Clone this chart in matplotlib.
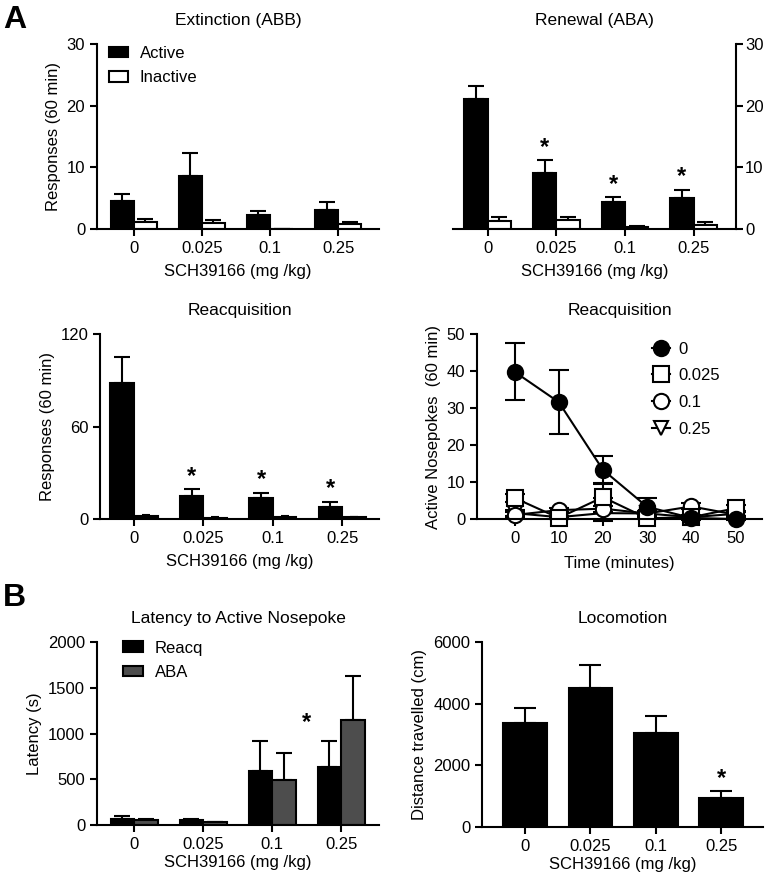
import numpy as np
import matplotlib.pyplot as plt
from matplotlib.patches import Patch
from matplotlib.lines import Line2D

plt.rcParams['font.family'] = ['Liberation Sans', 'DejaVu Sans']
plt.rcParams['font.size'] = 12
plt.rcParams['axes.linewidth'] = 1.5
plt.rcParams['xtick.major.width'] = 1.5
plt.rcParams['ytick.major.width'] = 1.5
plt.rcParams['xtick.major.size'] = 5
plt.rcParams['ytick.major.size'] = 5

doses = ['0', '0.025', '0.1', '0.25']

ext_active = [4.6, 8.6, 2.2, 3.1]
ext_active_err = [1.1, 3.7, 0.7, 1.2]
ext_inactive = [1.2, 0.9, 0.0, 0.8]
ext_inactive_err = [0.4, 0.6, 0.0, 0.4]

ren_active = [21.0, 9.1, 4.4, 5.0]
ren_active_err = [2.2, 2.1, 0.8, 1.4]
ren_inactive = [1.3, 1.4, 0.3, 0.6]
ren_inactive_err = [0.6, 0.5, 0.2, 0.5]

rea_active = [88.0, 15.0, 13.5, 8.0]
rea_active_err = [17.0, 4.5, 3.5, 3.2]
rea_inactive = [2.2, 0.8, 1.6, 1.2]
rea_inactive_err = [0.4, 0.2, 0.2, 0.2]

time_min = [0, 10, 20, 30, 40, 50]
tc_0 = [39.8, 31.6, 13.3, 3.3, 0.3, 0.0]
tc_0_err = [7.7, 8.6, 3.7, 2.3, 0.5, 0.3]
tc_025 = [5.7, 0.3, 5.9, 0.2, 0.5, 2.9]
tc_025_err = [1.0, 0.3, 3.9, 0.3, 0.5, 0.8]
tc_1 = [1.1, 2.4, 2.8, 1.5, 3.4, 1.2]
tc_1_err = [0.8, 0.6, 3.0, 0.8, 0.8, 0.6]
tc_25 = [1.6, 0.5, 1.6, 1.5, 0.5, 1.4]
tc_25_err = [0.8, 0.4, 2.0, 0.8, 0.4, 0.6]

lat_reacq = [62, 50, 593, 636]
lat_reacq_err = [35, 15, 320, 277]
lat_aba = [55, 29, 487, 1145]
lat_aba_err = [14, 8, 298, 480]

loco = [3384, 4508, 3038, 951]
loco_err = [486, 757, 551, 217]


def style(ax, right=False):
    ax.spines['top'].set_visible(False)
    if right:
        ax.spines['left'].set_visible(False)
        ax.yaxis.tick_right()
        ax.tick_params(axis='y', pad=1.5)
    else:
        ax.spines['right'].set_visible(False)
    ax.tick_params(labelsize=12)


def bars(ax, x, vals, errs, color, width, cap=6):
    ax.bar(x, vals, width, color=color, edgecolor='black', linewidth=1.5, zorder=2)
    ax.errorbar(x, vals, yerr=[np.zeros(len(vals)), errs], fmt='none',
                ecolor='black', elinewidth=1.5, capsize=cap, capthick=1.5, zorder=1)


def star(ax, x, y, off=1):
    ax.annotate('*', (x, y), xytext=(0, off), textcoords='offset points',
                ha='center', va='bottom', fontsize=17, fontweight='bold')


def patch(c):
    return Patch(facecolor=c, edgecolor='black', linewidth=1.5)


fig = plt.figure(figsize=(7.66, 8.76), dpi=100)
x = np.arange(4)
w = 0.34

# Extinction
ax1 = fig.add_axes([0.1266, 0.7386, 0.3682, 0.2112])
bars(ax1, x - w / 2, ext_active, ext_active_err, 'black', w)
bars(ax1, x + w / 2, ext_inactive, ext_inactive_err, 'white', w)
ax1.set_ylim(0, 30)
ax1.set_yticks([0, 10, 20, 30])
ax1.set_xlim(-0.54, 3.6)
ax1.set_xticks(x)
ax1.set_xticklabels(doses)
ax1.set_ylabel('Responses (60 min)')
ax1.set_xlabel('SCH39166 (mg /kg)', labelpad=6)
ax1.set_title('Extinction (ABB)', fontsize=12.5, pad=14)
ax1.legend([patch('black'), patch('white')], ['Active', 'Inactive'],
           loc='upper left', bbox_to_anchor=(-0.01, 1.07),
           frameon=False, fontsize=12, handlelength=1.15, handleheight=0.6,
           handletextpad=0.7, labelspacing=0.55)
style(ax1)

# Renewal
ax2 = fig.add_axes([0.592, 0.7386, 0.369, 0.2112])
bars(ax2, x - w / 2, ren_active, ren_active_err, 'black', w)
bars(ax2, x + w / 2, ren_inactive, ren_inactive_err, 'white', w)
ax2.set_ylim(0, 30)
ax2.set_yticks([0, 10, 20, 30])
ax2.set_xlim(-0.5, 3.62)
ax2.set_xticks(x)
ax2.set_xticklabels(doses)
ax2.set_xlabel('SCH39166 (mg /kg)', labelpad=6)
ax2.set_title('Renewal (ABA)', fontsize=12.5, pad=14)
for i in [1, 2, 3]:
    star(ax2, x[i] - w / 2, ren_active[i] + ren_active_err[i])
style(ax2, right=True)

# Reacquisition bars
ax3 = fig.add_axes([0.1305, 0.4075, 0.3643, 0.2112])
bars(ax3, x - w / 2, rea_active, rea_active_err, 'black', w)
bars(ax3, x + w / 2, rea_inactive, rea_inactive_err, 'black', w, cap=3)
ax3.set_ylim(0, 120)
ax3.set_yticks([0, 60, 120])
ax3.set_xlim(-0.49, 3.53)
ax3.set_xticks(x)
ax3.set_xticklabels(doses)
ax3.set_ylabel('Responses (60 min)')
ax3.set_xlabel('SCH39166 (mg /kg)', labelpad=6)
ax3.set_title('Reacquisition', fontsize=12.5, pad=14)
for i in [1, 2, 3]:
    star(ax3, x[i] - w / 2, rea_active[i] + rea_active_err[i])
style(ax3)

# Reacquisition time course
ax4 = fig.add_axes([0.6227, 0.4075, 0.3721, 0.2112])
series = [(tc_25, tc_25_err, 'v', 'white', '0.25'),
          (tc_1, tc_1_err, 'o', 'white', '0.1'),
          (tc_025, tc_025_err, 's', 'white', '0.025'),
          (tc_0, tc_0_err, 'o', 'black', '0')]
handles = {}
for vals, errs, m, fc, lab in series:
    ms = 11 if m != 'v' else 10
    ax4.errorbar(time_min, vals, yerr=errs, color='black', marker=m,
                 markersize=ms, markerfacecolor=fc,
                 markeredgecolor='black', markeredgewidth=1.5,
                 linewidth=1.5, elinewidth=1.5, capsize=7, capthick=1.5,
                 clip_on=False)
    handles[lab] = Line2D([], [], color='black', marker=m, markersize=ms,
                          markerfacecolor=fc, markeredgecolor='black',
                          markeredgewidth=1.5, linewidth=1.5)
order = ['0', '0.025', '0.1', '0.25']
ax4.legend([handles[k] for k in order], order, loc='upper left',
           bbox_to_anchor=(0.56, 1.04), frameon=False, fontsize=12,
           handlelength=1.1, handletextpad=0.5, labelspacing=0.7)
ax4.set_ylim(0, 50)
ax4.set_yticks([0, 10, 20, 30, 40, 50])
ax4.set_xlim(-8.5, 56)
ax4.set_xticks(time_min)
ax4.set_ylabel('Active Nosepokes  (60 min)')
ax4.set_xlabel('Time (minutes)', labelpad=7)
ax4.set_title('Reacquisition', fontsize=12.5, pad=14)
style(ax4)

# Latency
ax5 = fig.add_axes([0.1266, 0.0582, 0.3682, 0.2089])
bars(ax5, x - w / 2, lat_reacq, lat_reacq_err, 'black', w)
bars(ax5, x + w / 2, lat_aba, lat_aba_err, '#4d4d4d', w)
ax5.set_ylim(0, 2000)
ax5.set_yticks([0, 500, 1000, 1500, 2000])
ax5.set_xlim(-0.54, 3.55)
ax5.set_xticks(x)
ax5.set_xticklabels(doses)
ax5.set_ylabel('Latency (s)')
ax5.set_xlabel('SCH39166 (mg /kg)', labelpad=2)
ax5.set_title('Latency to Active Nosepoke', fontsize=12.5, pad=14)
ax5.legend([patch('black'), patch('#4d4d4d')], ['Reacq', 'ABA'],
           loc='upper left', bbox_to_anchor=(0.04, 1.09),
           frameon=False, fontsize=12, handlelength=1.2, handleheight=0.6,
           handletextpad=0.7, labelspacing=0.55)
ax5.annotate('*', (2.5, 1000), ha='center', va='bottom', fontsize=17, fontweight='bold')
style(ax5)

# Locomotion
ax6 = fig.add_axes([0.6292, 0.056, 0.3668, 0.2111])
bars(ax6, x, loco, loco_err, 'black', 0.67, cap=8)
ax6.set_ylim(0, 6000)
ax6.set_yticks([0, 2000, 4000, 6000])
ax6.set_xlim(-0.66, 3.64)
ax6.set_xticks(x)
ax6.set_xticklabels(doses)
ax6.set_ylabel('Distance travelled (cm)')
ax6.set_xlabel('SCH39166 (mg /kg)', labelpad=2)
ax6.set_title('Locomotion', fontsize=12.5, pad=14)
star(ax6, x[3], loco[3] + loco_err[3])
style(ax6)

fig.text(0.004, 0.994, 'A', fontsize=23, fontweight='bold', va='top', ha='left')
fig.text(0.004, 0.335, 'B', fontsize=23, fontweight='bold', va='top', ha='left')

fig.savefig('out.png', dpi=100)
